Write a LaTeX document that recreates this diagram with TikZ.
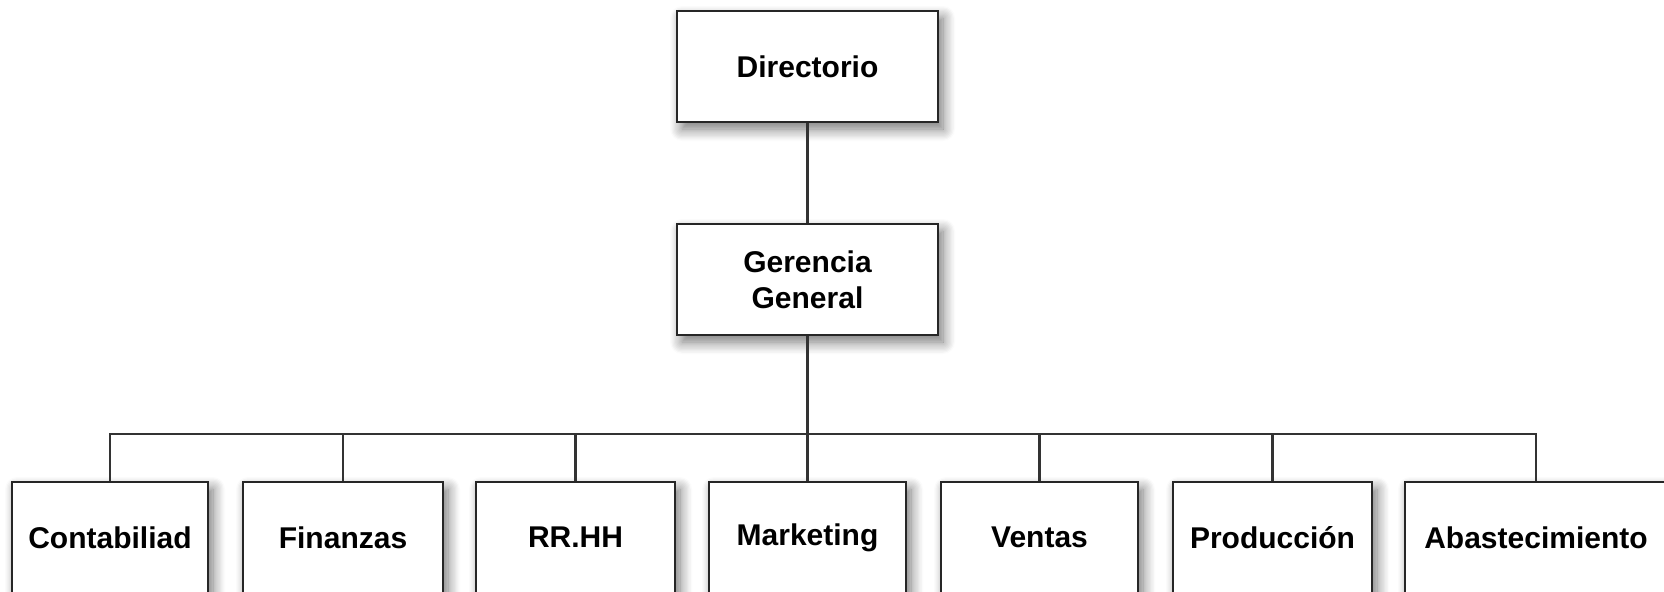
\documentclass[tikz,border=0pt]{standalone}
\usepackage{fontspec}
\setmainfont{Liberation Sans}
\usetikzlibrary{shadows.blur}
\begin{document}
\begin{tikzpicture}[x=0.5pt,y=-0.5pt]
\tikzstyle{unit}=[draw=black!85,line width=1.3pt,fill=white,inner sep=0pt,
  minimum height=55.5pt,align=center,font=\fontsize{15}{18}\selectfont\bfseries,
  blur shadow={shadow xshift=2.5pt,shadow yshift=-3.5pt,shadow blur radius=6pt,shadow blur steps=10,shadow opacity=55}]
\tikzstyle{conn}=[draw=black!80,line width=1.1pt]
\useasboundingbox (0,0) rectangle (1664,591);
% top levels
\node [unit,minimum width=130.5pt] (dir) at (807.5,66.5) {Directorio};
\node [unit,minimum width=130.5pt] (ger) at (807.5,279.5) {Gerencia\\General};
% areas
\node [unit,minimum width=98pt] (conta) at (110,537.5) {Contabiliad};
\node [unit,minimum width=100pt] (fin) at (343,537.5) {Finanzas};
\node [unit,minimum width=99.5pt] (rrhh) at (575.5,537.5) {RR.HH};
\node [unit,minimum width=98.5pt] (mkt) at (807.5,537.5) {Marketing};
\node [unit,minimum width=98.5pt] (ven) at (1039.5,537.5) {Ventas};
\node [unit,minimum width=99.5pt] (prod) at (1272.5,537.5) {Producción};
\node [unit,minimum width=131pt] (abas) at (1536,537.5) {Abastecimiento};
% connectors
\coordinate (bar) at (807.5,434);
\draw [conn] (dir.south) -- (ger.north);
\draw [conn] (ger.south) -- (bar);
\draw [conn] (conta.north) |- (bar) -| (abas.north);
\foreach \n in {fin,rrhh,mkt,ven,prod}
  \draw [conn] (\n.north) -- (\n.north |- bar);
\end{tikzpicture}
\end{document}
